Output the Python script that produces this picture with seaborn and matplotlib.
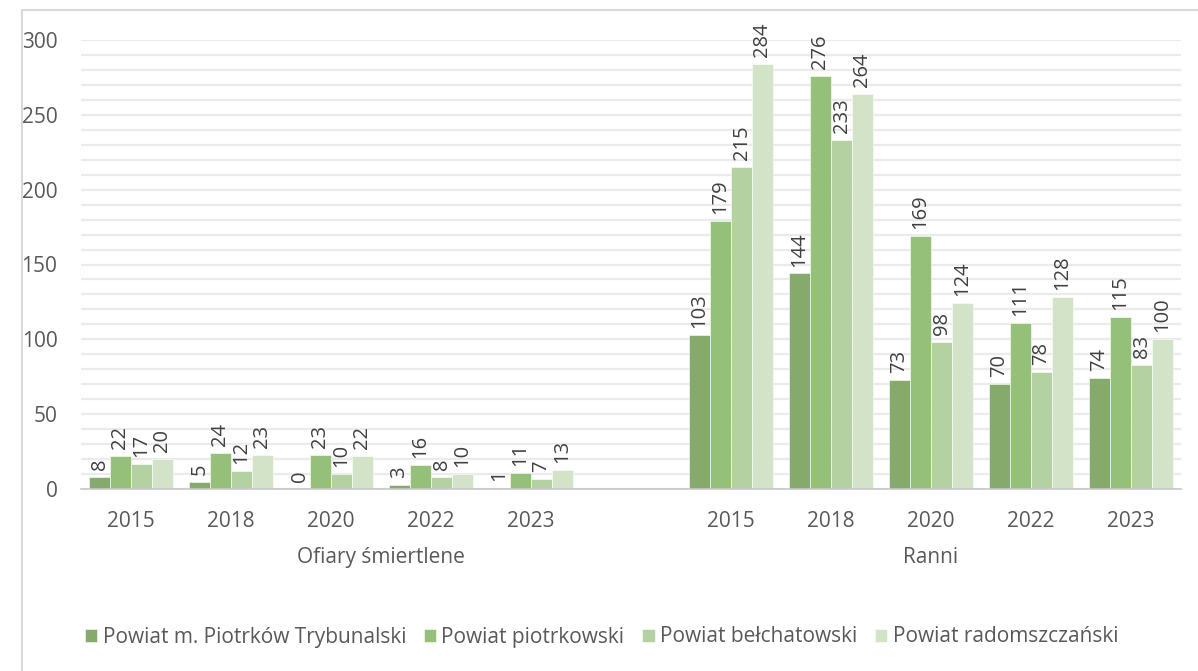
import matplotlib
matplotlib.use("Agg")
import matplotlib.pyplot as plt
import seaborn as sns
import pandas as pd
from matplotlib.patches import Rectangle

YEARS = ["2015", "2018", "2020", "2022", "2023"]
GROUPS = ["Ofiary śmiertlene", "Ranni"]
SERIES = [
    "Powiat m. Piotrków Trybunalski",
    "Powiat piotrkowski",
    "Powiat bełchatowski",
    "Powiat radomszczański",
]

# Ofiary śmiertlene
deaths_piotrkow_city = [8, 5, 0, 3, 1]
deaths_piotrkowski = [22, 24, 23, 16, 11]
deaths_belchatowski = [17, 12, 10, 8, 7]
deaths_radomszczanski = [20, 23, 22, 10, 13]

# Ranni
injured_piotrkow_city = [103, 144, 73, 70, 74]
injured_piotrkowski = [179, 276, 169, 111, 115]
injured_belchatowski = [215, 233, 98, 78, 83]
injured_radomszczanski = [284, 264, 124, 128, 100]

COLORS = ["#86a96c", "#95c07a", "#b4d2a1", "#d2e3c7"]

deaths = [deaths_piotrkow_city, deaths_piotrkowski, deaths_belchatowski, deaths_radomszczanski]
injured = [injured_piotrkow_city, injured_piotrkowski, injured_belchatowski, injured_radomszczanski]

rows = []
for name, d_vals, i_vals in zip(SERIES, deaths, injured):
    for year, v in zip(YEARS, d_vals):
        rows.append({"key": f"O{year}", "series": name, "value": v})
    for year, v in zip(YEARS, i_vals):
        rows.append({"key": f"R{year}", "series": name, "value": v})
df = pd.DataFrame(rows)

# one empty slot at the end of the first group
order = [f"O{y}" for y in YEARS] + ["gap"] + [f"R{y}" for y in YEARS]

sns.set_style("white")
plt.rcParams["font.family"] = ["Open Sans", "DejaVu Sans"]

fig = plt.figure(figsize=(11.98, 6.71), dpi=100)
ax = fig.add_axes([81 / 1198, 1 - 489 / 671, 1100 / 1198, 449 / 671])

sns.barplot(
    data=df, x="key", y="value", hue="series", order=order, hue_order=SERIES,
    palette=COLORS, errorbar=None, width=0.84, gap=0, ax=ax,
    edgecolor="white", linewidth=0.4, saturation=1,
)

for cont in ax.containers:
    ax.bar_label(cont, fmt="%.0f", rotation=90, padding=5, fontsize=14.5,
                 color="#404040", clip_on=False)

ax.set_ylim(0, 300)
ax.set_xlim(-0.5, len(order) - 0.5)
ax.set_yticks(range(0, 301, 50))
ax.set_yticks(range(0, 301, 10), minor=True)
ax.grid(axis="y", which="both", color="#ebebeb", linewidth=1.6)
ax.set_axisbelow(True)
ax.set_xticks(range(len(order)))
ax.set_xticklabels(YEARS + [""] + YEARS)
ax.tick_params(axis="both", length=0, labelsize=15, colors="#595959")
ax.tick_params(axis="y", pad=17)
ax.tick_params(axis="x", pad=16)
ax.set_xlabel("")
ax.set_ylabel("")
for side in ["top", "right", "left"]:
    ax.spines[side].set_visible(False)
ax.spines["bottom"].set_color("#c8c8c8")
ax.spines["bottom"].set_linewidth(1.2)

# group labels: first group spans the five years plus the empty slot
ax.text(2.5, -0.153, GROUPS[0], transform=ax.get_xaxis_transform(),
        ha="center", va="center", fontsize=15, color="#595959")
ax.text(8, -0.153, GROUPS[1], transform=ax.get_xaxis_transform(),
        ha="center", va="center", fontsize=15, color="#595959")

handles, labels = ax.get_legend_handles_labels()
ax.legend(handles, labels, loc="center", bbox_to_anchor=(0.502, 1 - 637 / 671),
          bbox_transform=fig.transFigure, ncol=4, frameon=False, fontsize=15,
          handlelength=0.6, handleheight=0.6, handletextpad=0.25,
          columnspacing=0.85, labelcolor="#595959")

fig.patches.append(Rectangle((22 / 1198, -0.01), 1.0, 1 - 10 / 671 + 0.01,
                             transform=fig.transFigure, fill=False,
                             edgecolor="#d9d9d9", linewidth=1.5))

fig.savefig("out.png", dpi=100)
